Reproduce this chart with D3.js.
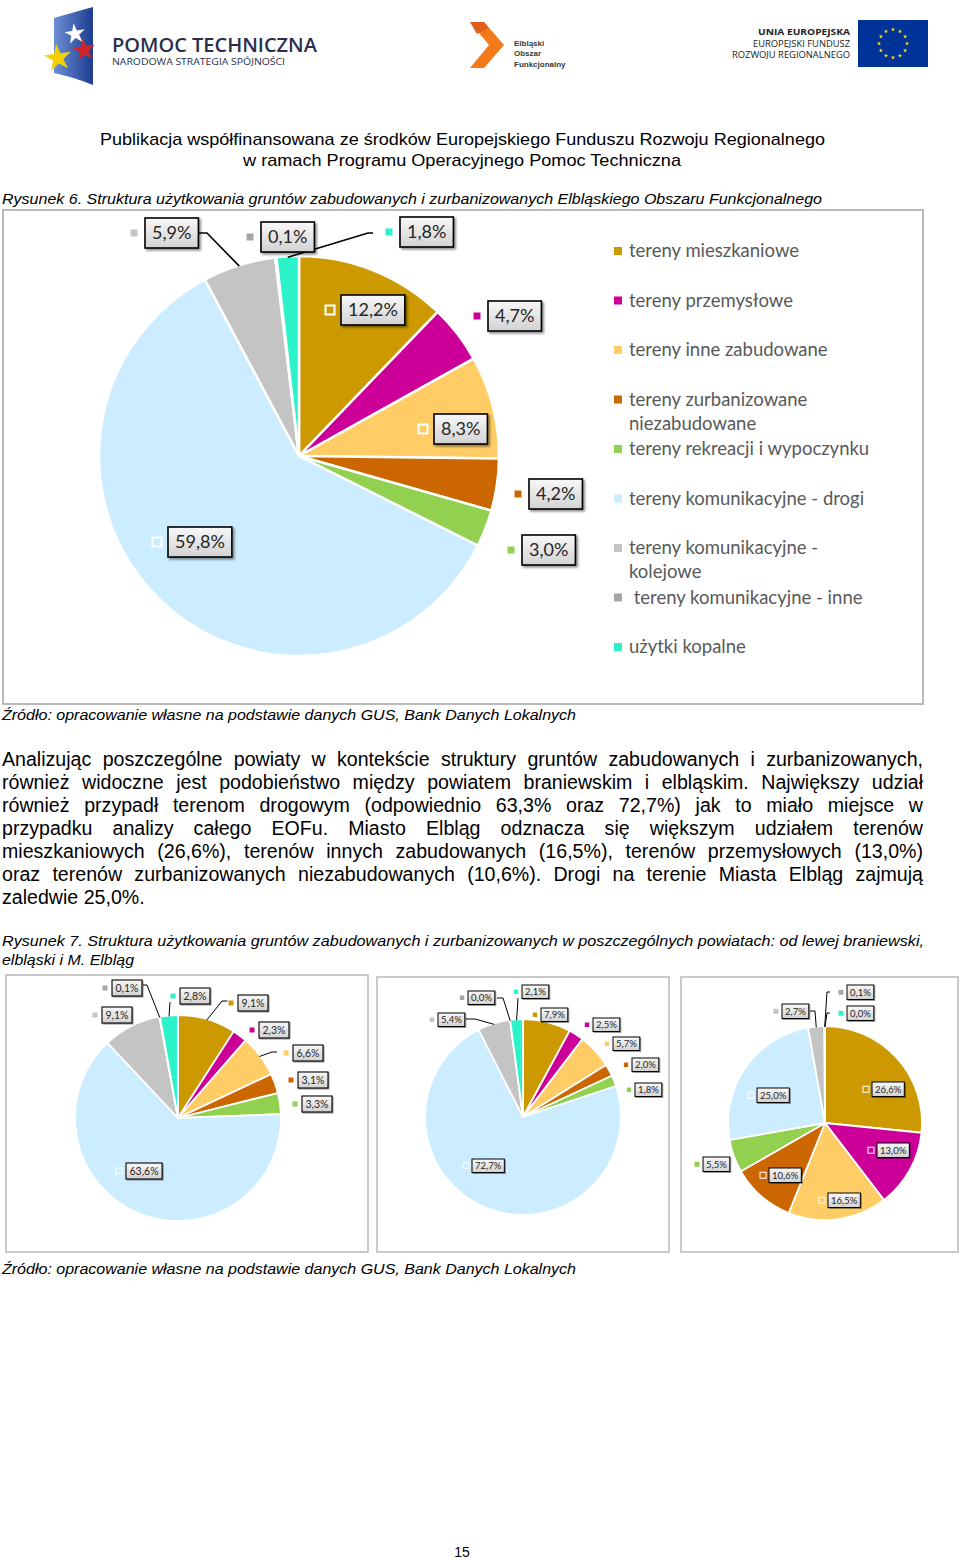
<!DOCTYPE html>
<html><head><meta charset="utf-8">
<script src="https://cdn.jsdelivr.net/npm/d3@7/dist/d3.min.js"></script>
<style>body{margin:0;background:#fff;} svg{display:block;}</style>
</head><body>
<script>
// ---------- DATA ----------
const categories = ["tereny mieszkaniowe", "tereny przemysłowe", "tereny inne zabudowane",
  "tereny zurbanizowane niezabudowane", "tereny rekreacji i wypoczynku",
  "tereny komunikacyjne - drogi", "tereny komunikacyjne - kolejowe",
  "tereny komunikacyjne - inne", "użytki kopalne"];
const valuesEOF        = [12.2, 4.7, 8.3, 4.2, 3.0, 59.8, 5.9, 0.1, 1.8];
const valuesBraniewski = [9.1, 2.3, 6.6, 3.1, 3.3, 63.6, 9.1, 0.1, 2.8];
const valuesElblaski   = [7.9, 2.5, 5.7, 2.0, 1.8, 72.7, 5.4, 0.0, 2.1];
const valuesElblag     = [26.6, 13.0, 16.5, 10.6, 5.5, 25.0, 2.7, 0.1, 0.0];

// ---------- STYLE / LAYOUT ----------
const colors = ["#CC9A00", "#CC0099", "#FFCC66", "#CC6600", "#92D050", "#CCECFF", "#C4C4C4", "#A6A6A6", "#2CF2CA"];
const legendLines = [["tereny mieszkaniowe"], ["tereny przemysłowe"], ["tereny inne zabudowane"],
  ["tereny zurbanizowane", "niezabudowane"], ["tereny rekreacji i wypoczynku"],
  ["tereny komunikacyjne - drogi"], ["tereny komunikacyjne -", "kolejowe"],
  [" tereny komunikacyjne - inne"], ["użytki kopalne"]];
const chartFont = "Lato, 'Open Sans', sans-serif";
const textFont = "'Liberation Sans', Arial, sans-serif";
const fmt = v => v.toFixed(1).replace(".", ",") + "%";

const svg = d3.select("body").append("svg").attr("width", 960).attr("height", 1560);
const defs = svg.append("defs");
const bg = defs.append("linearGradient").attr("id", "boxGrad").attr("x1", 0).attr("y1", 0).attr("x2", 0).attr("y2", 1);
bg.append("stop").attr("offset", "0%").attr("stop-color", "#F8F8F8");
bg.append("stop").attr("offset", "100%").attr("stop-color", "#D2D2D2");
defs.append("filter").attr("id", "shadow").attr("x", "-30%").attr("y", "-30%").attr("width", "160%").attr("height", "160%")
  .append("feDropShadow").attr("dx", 1.8).attr("dy", 1.8).attr("stdDeviation", 1.1).attr("flood-color", "#000").attr("flood-opacity", 0.45);
defs.append("filter").attr("id", "shadowS").attr("x", "-30%").attr("y", "-30%").attr("width", "160%").attr("height", "160%")
  .append("feDropShadow").attr("dx", 1).attr("dy", 1).attr("stdDeviation", 0.7).attr("flood-color", "#000").attr("flood-opacity", 0.4);
const fg = defs.append("linearGradient").attr("id", "flagGrad").attr("x1", 0).attr("y1", 0).attr("x2", 1).attr("y2", 0);
fg.append("stop").attr("offset", "0%").attr("stop-color", "#6B8FD6");
fg.append("stop").attr("offset", "100%").attr("stop-color", "#1D3D8F");

// ---------- HEADER LOGOS ----------
const logo = svg.append("g");
logo.append("path").attr("d", "M54,18 C68,14 81,10 93,7 L93,85 C81,80 68,76 54,73 Z").attr("fill", "url(#flagGrad)");
const star = (x, y, r, c) => logo.append("path")
  .attr("d", d3.symbol(d3.symbolStar, r * r * 1.6)()).attr("transform", `translate(${x},${y}) rotate(-8)`).attr("fill", c);
star(58, 58, 12, "#F4D000");
star(84, 50, 10, "#D2232A");
star(75, 34, 9, "#FFFFFF");
logo.append("text").attr("x", 112).attr("y", 52).attr("font-family", "'Open Sans', sans-serif").attr("font-weight", 600)
  .attr("font-size", 20).attr("fill", "#2B2F4C").attr("textLength", 205).attr("lengthAdjust", "spacingAndGlyphs").text("POMOC TECHNICZNA");
logo.append("text").attr("x", 112).attr("y", 65).attr("font-family", "'Open Sans', sans-serif")
  .attr("font-size", 9.5).attr("fill", "#2B2F4C").attr("textLength", 173).attr("lengthAdjust", "spacingAndGlyphs").text("NARODOWA STRATEGIA SPÓJNOŚCI");
logo.append("path").attr("d", "M470,22 L484,22 L504,45 L484,68 L470,68 L489,45 Z").attr("fill", "#F27A1A");
logo.append("path").attr("d", "M470,22 L484,22 L489,28 L477,34 Z").attr("fill", "#E0601A");
[["Elbląski", 46], ["Obszar", 56], ["Funkcjonalny", 67]].forEach(([t, y]) =>
  logo.append("text").attr("x", 514).attr("y", y).attr("font-family", textFont).attr("font-weight", "bold")
    .attr("font-size", 8).attr("fill", "#3A3A3A").text(t));
[["UNIA EUROPEJSKA", 35, "bold", 9.5, 758], ["EUROPEJSKI FUNDUSZ", 47, "normal", 9, 753], ["ROZWOJU REGIONALNEGO", 58, "normal", 9, 732]].forEach(([t, y, w, s, x0]) =>
  logo.append("text").attr("x", x0).attr("y", y).attr("font-family", "'Open Sans', sans-serif")
    .attr("font-weight", w).attr("font-size", s).attr("fill", "#222")
    .attr("textLength", 850 - x0).attr("lengthAdjust", "spacingAndGlyphs").text(t));
logo.append("rect").attr("x", 858).attr("y", 20).attr("width", 70).attr("height", 47).attr("fill", "#003399");
d3.range(12).forEach(i => {
  const a = i * Math.PI / 6;
  logo.append("path").attr("d", d3.symbol(d3.symbolStar, 6)())
    .attr("transform", `translate(${893 + Math.sin(a) * 14},${43.5 - Math.cos(a) * 14})`).attr("fill", "#FFDD00");
});

// ---------- TEXTS ----------
function line(txt, x, y, opts = {}) {
  const t = svg.append("text").attr("x", x).attr("y", y).attr("font-family", textFont)
    .attr("font-size", opts.fs || 15).attr("fill", "#000").text(txt);
  if (opts.italic) t.attr("font-style", "italic");
  if (opts.anchor) t.attr("text-anchor", opts.anchor);
  if (opts.len) t.attr("textLength", opts.len).attr("lengthAdjust", "spacingAndGlyphs");
  return t;
}
line("Publikacja współfinansowana ze środków Europejskiego Funduszu Rozwoju Regionalnego", 100, 145, { fs: 17, len: 725 });
line("w ramach Programu Operacyjnego Pomoc Techniczna", 243, 166, { fs: 17, len: 438 });
line("Rysunek 6. Struktura użytkowania gruntów zabudowanych i zurbanizowanych Elbląskiego Obszaru Funkcjonalnego", 2, 204, { fs: 15.5, italic: true, len: 820 });
line("Źródło: opracowanie własne na podstawie danych GUS, Bank Danych Lokalnych", 2, 720, { fs: 15.5, italic: true, len: 574 });
line("Rysunek 7. Struktura użytkowania gruntów zabudowanych i zurbanizowanych w poszczególnych powiatach: od lewej braniewski,", 2, 946, { fs: 15.5, italic: true, len: 922 });
line("elbląski i M. Elbląg", 2, 965, { fs: 15.5, italic: true, len: 132 });
line("Źródło: opracowanie własne na podstawie danych GUS, Bank Danych Lokalnych", 2, 1274, { fs: 15.5, italic: true, len: 574 });
line("15", 462, 1557, { fs: 14, anchor: "middle" });

const paragraph = [
  "Analizując poszczególne powiaty w kontekście struktury gruntów zabudowanych i zurbanizowanych,",
  "również widoczne jest podobieństwo między powiatem braniewskim i elbląskim. Największy udział",
  "również przypadł terenom drogowym (odpowiednio 63,3% oraz 72,7%) jak to miało miejsce w",
  "przypadku analizy całego EOFu. Miasto Elbląg odznacza się większym udziałem terenów",
  "mieszkaniowych (26,6%), terenów innych zabudowanych (16,5%), terenów przemysłowych (13,0%)",
  "oraz terenów zurbanizowanych niezabudowanych (10,6%). Drogi na terenie Miasta Elbląg zajmują",
  "zaledwie 25,0%."];
paragraph.forEach((s, i) => {
  const t = line(s, 2, 766 + i * 23, { fs: 19.6 });
  if (i < paragraph.length - 1) {
    const w = t.node().getComputedTextLength();
    const n = s.split(" ").length - 1;
    t.attr("word-spacing", (921 - w) / n);
  }
});

// ---------- PIE CHARTS ----------
function drawPie(cfg) {
  svg.append("rect").attr("x", cfg.frame[0]).attr("y", cfg.frame[1]).attr("width", cfg.frame[2]).attr("height", cfg.frame[3])
    .attr("fill", "#fff").attr("stroke", cfg.frameColor).attr("stroke-width", 1.6);
  const arcs = d3.pie().sort(null).value(d => d)(cfg.values);
  const arc = d3.arc().innerRadius(0).outerRadius(cfg.r);
  const g = svg.append("g").attr("transform", `translate(${cfg.cx},${cfg.cy})`);
  g.selectAll("path").data(arcs).join("path").attr("d", arc)
    .attr("fill", (d, i) => colors[i]).attr("stroke", "#fff").attr("stroke-width", cfg.sw).attr("stroke-linejoin", "round");
  // leader lines
  cfg.leaders.forEach(([i, pts]) => {
    const a = (arcs[i].startAngle + arcs[i].endAngle) / 2;
    const end = [cfg.cx + Math.sin(a) * (cfg.r - 1), cfg.cy - Math.cos(a) * (cfg.r - 1)];
    svg.append("path").attr("d", d3.line()([...pts, end])).attr("fill", "none")
      .attr("stroke", "#000").attr("stroke-width", cfg.lw);
  });
  // labels
  arcs.forEach((d, i) => {
    const [bx, by] = cfg.labelPos[i];
    const lg = svg.append("g");
    const rect = lg.append("rect");
    const t = lg.append("text").attr("font-family", chartFont).attr("font-size", cfg.fs).attr("fill", "#262626")
      .text(fmt(cfg.values[i]));
    const w = t.node().getComputedTextLength() + 2 * cfg.pad;
    t.attr("x", bx + cfg.pad).attr("y", by + cfg.bh / 2 + cfg.fs * 0.36);
    rect.attr("x", bx).attr("y", by).attr("width", w).attr("height", cfg.bh)
      .attr("fill", "url(#boxGrad)").attr("stroke", "#000").attr("stroke-width", cfg.bw)
      .attr("filter", cfg.big ? "url(#shadow)" : "url(#shadowS)");
    lg.append("rect").attr("x", bx - cfg.mOff - cfg.ms / 2).attr("y", by + cfg.bh / 2 - cfg.ms / 2)
      .attr("width", cfg.ms).attr("height", cfg.ms).attr("fill", colors[i])
      .attr("stroke", "#fff").attr("stroke-width", cfg.msw);
  });
}

drawPie({
  values: valuesEOF, frame: [3, 210, 920, 494], frameColor: "#A9A9A9", cx: 299, cy: 456, r: 200, sw: 2.5,
  fs: 18, pad: 7, bh: 30, bw: 1.6, big: true, ms: 9, msw: 2, mOff: 11, lw: 1.6,
  labelPos: [[341, 295], [488, 301], [434, 414], [529, 479], [522, 535], [168, 527], [145, 218], [261, 222], [400, 217]],
  leaders: [[6, [[197, 233], [207, 233]]], [8, [[373, 233], [368, 233]]]]
});
drawPie({
  values: valuesBraniewski, frame: [6, 975, 362, 277], frameColor: "#BDBDBD", cx: 178, cy: 1118, r: 103, sw: 1.8,
  fs: 10.5, pad: 3.5, bh: 16, bw: 1.1, big: false, ms: 6, msw: 1, mOff: 7, lw: 1,
  labelPos: [[238, 995], [259, 1022], [293, 1045], [298, 1072], [302, 1096], [126, 1163], [102, 1007], [112, 980], [180, 988]],
  leaders: [[7, [[143, 985], [147, 985]]], [8, [[170, 1002]]], [0, [[229, 1001], [222, 1001]]], [2, [[277, 1052], [272, 1052]]]]
});
drawPie({
  values: valuesElblaski, frame: [377, 977, 292, 275], frameColor: "#BDBDBD", cx: 523, cy: 1117, r: 98, sw: 1.8,
  fs: 9.5, pad: 3, bh: 13.5, bw: 1, big: false, ms: 5.5, msw: 1, mOff: 6, lw: 1,
  labelPos: [[541, 1008], [593, 1018], [613, 1037], [632, 1058], [635, 1083], [472, 1159], [438, 1013], [468, 991], [522, 985]],
  leaders: [[7, [[497, 998], [503, 998]]], [8, [[518, 998]]], [6, [[466, 1019], [475, 1019]]]]
});
drawPie({
  values: valuesElblag, frame: [681, 977, 277, 275], frameColor: "#BDBDBD", cx: 825, cy: 1123, r: 97, sw: 1.8,
  fs: 9.5, pad: 3, bh: 14.5, bw: 1, big: false, ms: 6, msw: 1, mOff: 6, lw: 1,
  labelPos: [[872, 1082], [877, 1143], [828, 1193], [769, 1168], [703, 1157], [757, 1088], [782, 1004], [847, 985], [847, 1006]],
  leaders: [[7, [[830, 992], [827, 992]]], [8, [[830, 1013], [827, 1013]]], [6, [[810, 1011], [815, 1011]]]]
});

// ---------- MAIN LEGEND ----------
const ly = d3.scalePoint().domain(categories).range([251, 647]);
const leg = svg.append("g");
categories.forEach((c, i) => {
  const y = ly(c);
  leg.append("rect").attr("x", 614).attr("y", y - 4).attr("width", 8).attr("height", 8).attr("fill", colors[i]);
  legendLines[i].forEach((l, j) => leg.append("text").attr("x", 629).attr("y", y + 6 + j * 24)
    .attr("font-family", chartFont).attr("font-size", 18.5).attr("fill", "#595959").style("white-space", "pre").text(l));
});
</script>
</body></html>
